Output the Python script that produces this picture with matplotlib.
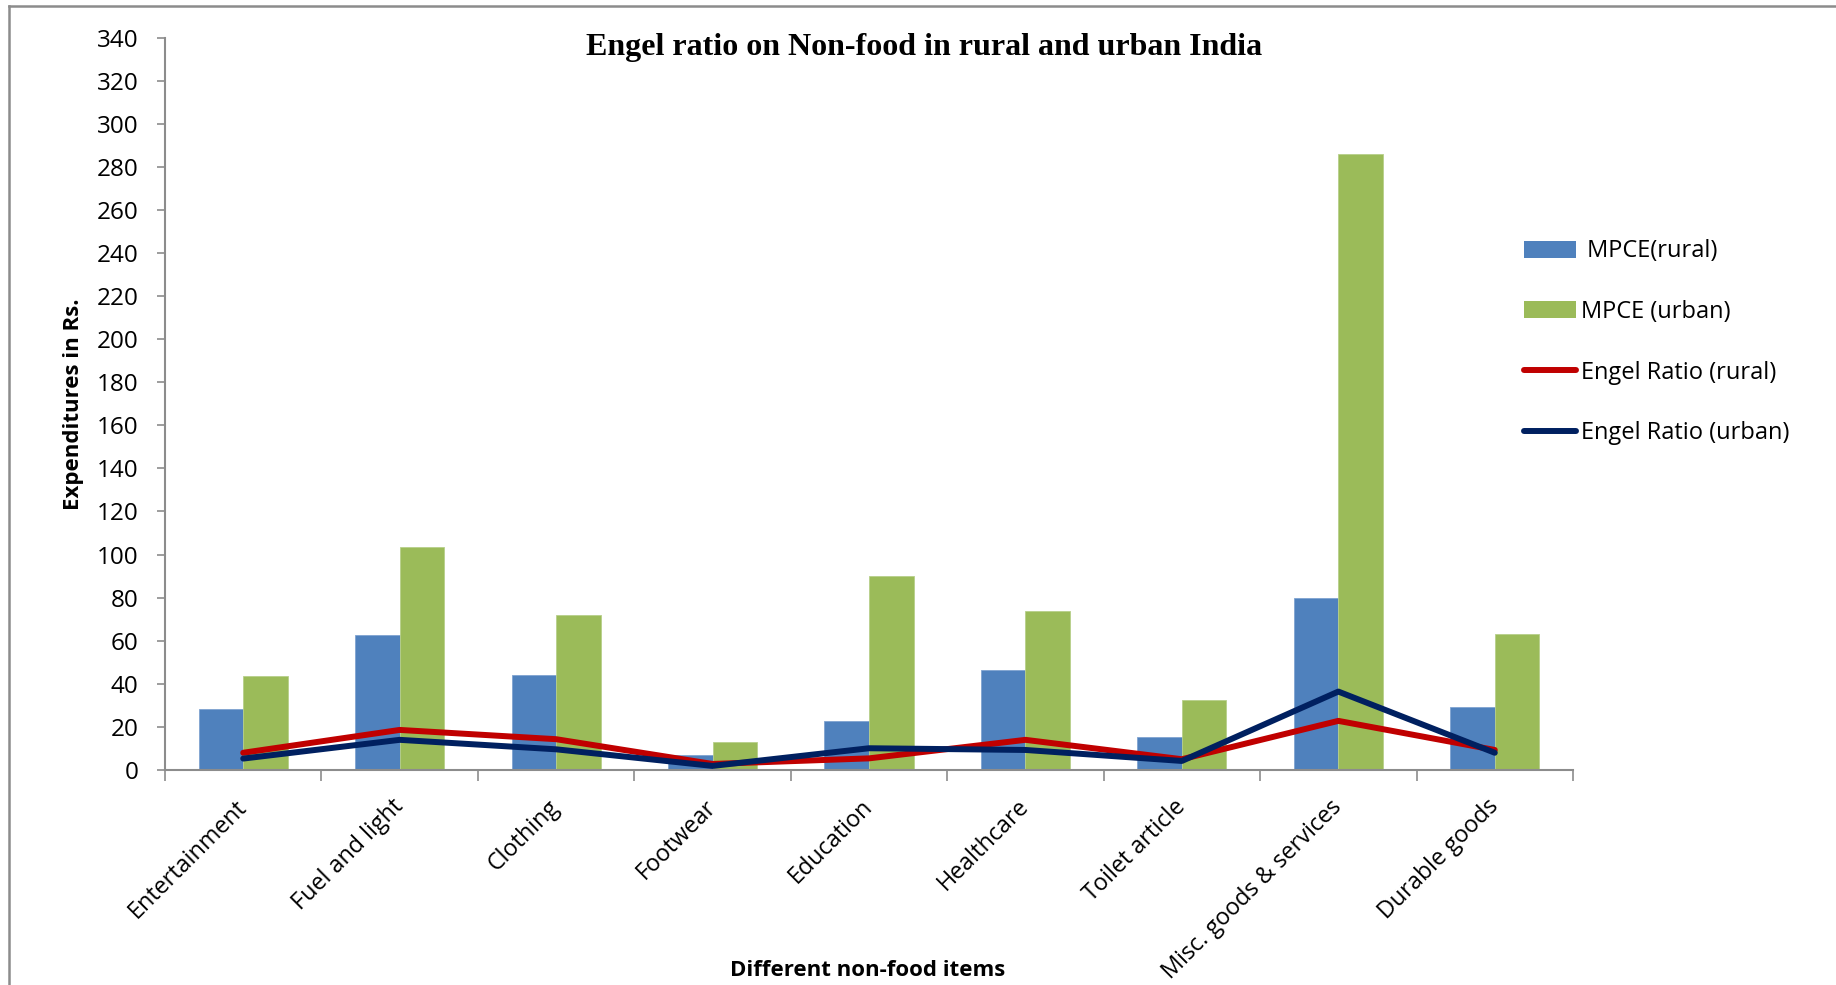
import matplotlib
matplotlib.use("Agg")
import matplotlib.pyplot as plt
import numpy as np
from matplotlib.lines import Line2D
from matplotlib.patches import Patch

categories = ["Entertainment", "Fuel and light", "Clothing", "Footwear", "Education",
              "Healthcare", "Toilet article", "Misc. goods & services", "Durable goods"]
mpce_rural = [28.2, 62.6, 44.0, 6.8, 22.9, 46.5, 15.5, 79.8, 29.4]
mpce_urban = [43.6, 103.7, 71.8, 13.2, 90.2, 74.0, 32.4, 286.0, 63.0]
engel_rural = [8.0, 18.6, 14.3, 2.8, 5.4, 14.0, 5.0, 22.8, 9.3]
engel_urban = [5.3, 14.0, 9.6, 1.9, 10.1, 9.3, 4.2, 36.4, 8.0]
yticks = list(range(0, 341, 20))

c_blue = "#4F81BD"
c_green = "#9BBB59"
c_red = "#C00000"
c_navy = "#002060"
axis_gray = "#8C8C8C"
font = "Open Sans"

fig = plt.figure(figsize=(18.36, 9.85), dpi=100)
ax = fig.add_axes([165/1836, 1-770/985, (1573-165)/1836, (770-37.5)/985])

x = np.arange(len(categories))
w = 0.285
ax.bar(x - w/2, mpce_rural, width=w, color=c_blue, edgecolor="#7FA3D1", linewidth=0.6, zorder=2)
ax.bar(x + w/2, mpce_urban, width=w, color=c_green, edgecolor="#B7CF8A", linewidth=0.6, zorder=2)
ax.plot(x, engel_rural, color=c_red, lw=4.3, solid_capstyle="round", solid_joinstyle="round", zorder=3)
ax.plot(x, engel_urban, color=c_navy, lw=4.3, solid_capstyle="round", solid_joinstyle="round", zorder=4)

ax.set_xlim(-0.5, len(categories) - 0.5)
ax.set_ylim(0, 340)
ax.set_yticks(yticks)
ax.set_yticklabels([str(v) for v in yticks], fontsize=17.5, family=font)
ax.tick_params(axis="y", length=6, width=1.2, color=axis_gray, pad=13, direction="out")

ax.set_xticks(np.arange(-0.5, len(categories), 1.0))
ax.set_xticklabels([])
ax.tick_params(axis="x", which="major", length=8, width=1.2, color=axis_gray, direction="out")
ax.set_xticks(x, minor=True)
ax.set_xticklabels(categories, minor=True, rotation=45, ha="right", va="center",
                   rotation_mode="anchor", fontsize=16.8, family=font)
ax.tick_params(axis="x", which="minor", length=0, pad=24)

for s in ["top", "right"]:
    ax.spines[s].set_visible(False)
for s in ["left", "bottom"]:
    ax.spines[s].set_color(axis_gray)
    ax.spines[s].set_linewidth(1.5)

fig.text(924/1836, 1-47/985, "Engel ratio on Non-food in rural and urban India",
         ha="center", va="center", fontsize=23, fontweight="bold", family="Liberation Serif")
fig.text(74/1836, 1-404/985, "Expenditures in Rs.", rotation=90, ha="center", va="center",
         fontsize=16, fontweight="bold", family=font)
fig.text(868/1836, 1-970/985, "Different non-food items", ha="center", va="center",
         fontsize=16, fontweight="bold", family=font)

handles = [Patch(facecolor=c_blue, edgecolor="none"),
           Patch(facecolor=c_green, edgecolor="none"),
           Line2D([0], [0], color=c_red, lw=4.3, solid_capstyle="round"),
           Line2D([0], [0], color=c_navy, lw=4.3, solid_capstyle="round")]
labels = [" MPCE(rural)", "MPCE (urban)", "Engel Ratio (rural)", "Engel Ratio (urban)"]
leg = fig.legend(handles, labels, loc="upper left", bbox_to_anchor=(1515/1836, 1-230/985),
                 frameon=False, prop={"family": font, "size": 17}, handlelength=2.2,
                 handleheight=0.75, handletextpad=0.2, labelspacing=1.55, borderaxespad=0)

# outer frame lines (top and left)
fig.add_artist(Line2D([9/1836, 1], [1-6/985, 1-6/985], transform=fig.transFigure,
                      color="#8C8C8C", lw=1.8))
fig.add_artist(Line2D([9/1836, 9/1836], [0, 1-6/985], transform=fig.transFigure,
                      color="#8C8C8C", lw=1.8))

fig.savefig("out.png", dpi=100)
